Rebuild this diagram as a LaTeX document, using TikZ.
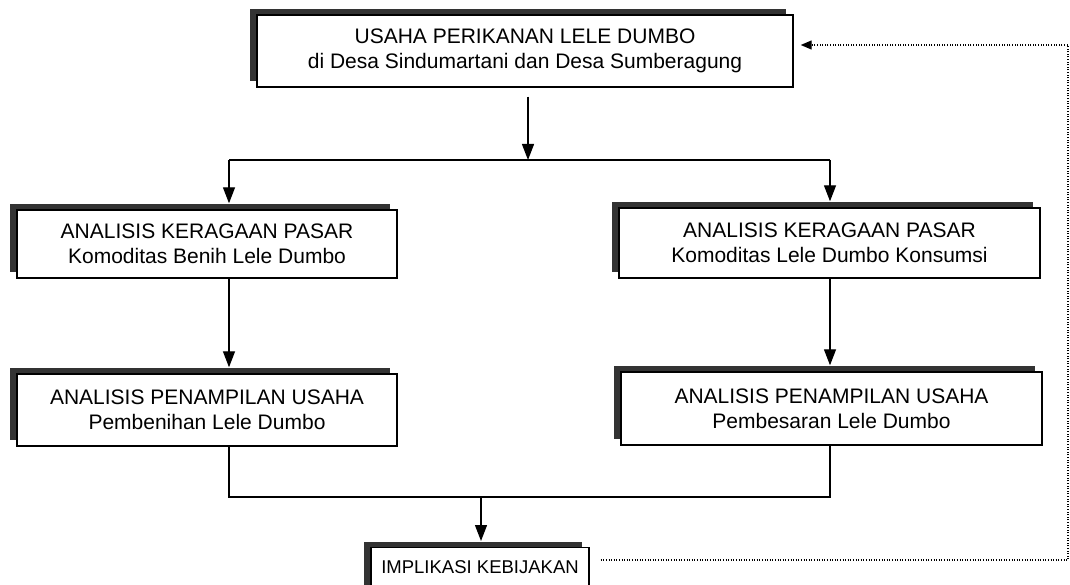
\documentclass[tikz,border=0pt]{standalone}
\usepackage{fontspec}
\setmainfont{Liberation Sans}
\usetikzlibrary{arrows.meta,shadows,calc}
\begin{document}
\begin{tikzpicture}[x=1pt,y=-1pt,
  boxnode/.style={draw, line width=1.4pt, fill=white, align=center, inner sep=0pt,
    font=\fontsize{21}{25}\selectfont,
    general shadow={shadow xshift=-7pt, shadow yshift=6pt, fill=black!80}},
  conn/.style={line width=1.3pt},
  arr/.style={conn, -{Triangle[length=16pt,width=12pt]}},
  feedback/.style={line width=1.3pt, dash pattern=on 1pt off 1.6pt},
]
\useasboundingbox (0,0) rectangle (1070,585);
\clip (0,0) rectangle (1070,585);
\fill[white] (0,0) rectangle (1070,585);

\node[boxnode, minimum width=536pt, minimum height=72pt] (top) at (525,51)
  {USAHA PERIKANAN LELE DUMBO\\di Desa Sindumartani dan Desa Sumberagung};
\node[boxnode, minimum width=380pt, minimum height=68pt] (l1) at (207,244)
  {ANALISIS KERAGAAN PASAR\\Komoditas Benih Lele Dumbo};
\node[boxnode, minimum width=421pt, minimum height=70pt] (r1) at (829.5,243)
  {ANALISIS KERAGAAN PASAR\\Komoditas Lele Dumbo Konsumsi};
\node[boxnode, minimum width=380pt, minimum height=72pt] (l2) at (207,410)
  {ANALISIS PENAMPILAN USAHA\\Pembenihan Lele Dumbo};
\node[boxnode, minimum width=421pt, minimum height=73pt] (r2) at (831.5,408.5)
  {ANALISIS PENAMPILAN USAHA\\Pembesaran Lele Dumbo};
\node[boxnode, anchor=north, minimum width=218pt, inner ysep=13pt,
      text height=13pt, text depth=40pt, font=\fontsize{18.5}{22}\selectfont] (imp) at (480,547)
  {IMPLIKASI KEBIJAKAN};

\coordinate (split) at (528,160);
\coordinate (sl) at (229,160);
\coordinate (sr) at (830,160);
\coordinate (join) at (481,497);
\coordinate (jl) at (229,497);
\coordinate (jr) at (830,497);
\coordinate (fb1) at (1068,560);
\coordinate (fb2) at (1068,45);

\draw[arr] ([yshift=-9pt]top.south -| split) -- (split);
\draw[conn] (sl) -- (sr);
\draw[arr] (sl) -- ([yshift=6pt]l1.north -| sl);
\draw[arr] (sr) -- ([yshift=6pt]r1.north -| sr);
\draw[arr] (l1.south -| sl) -- ([yshift=6pt]l2.north -| sl);
\draw[arr] (r1.south -| sr) -- ([yshift=6pt]r2.north -| sr);
\draw[conn] (l2.south -| jl) -- (jl) -- (jr) -- (r2.south -| jr);
\draw[arr] (join) -- ([yshift=6pt]imp.north -| join);
\draw[feedback, -{Triangle[length=11pt,width=9pt]}]
  ([xshift=11pt]imp.east |- fb1) -- (fb1) -- (fb2) -- ([xshift=7pt]top.east |- fb2);
\end{tikzpicture}
\end{document}
